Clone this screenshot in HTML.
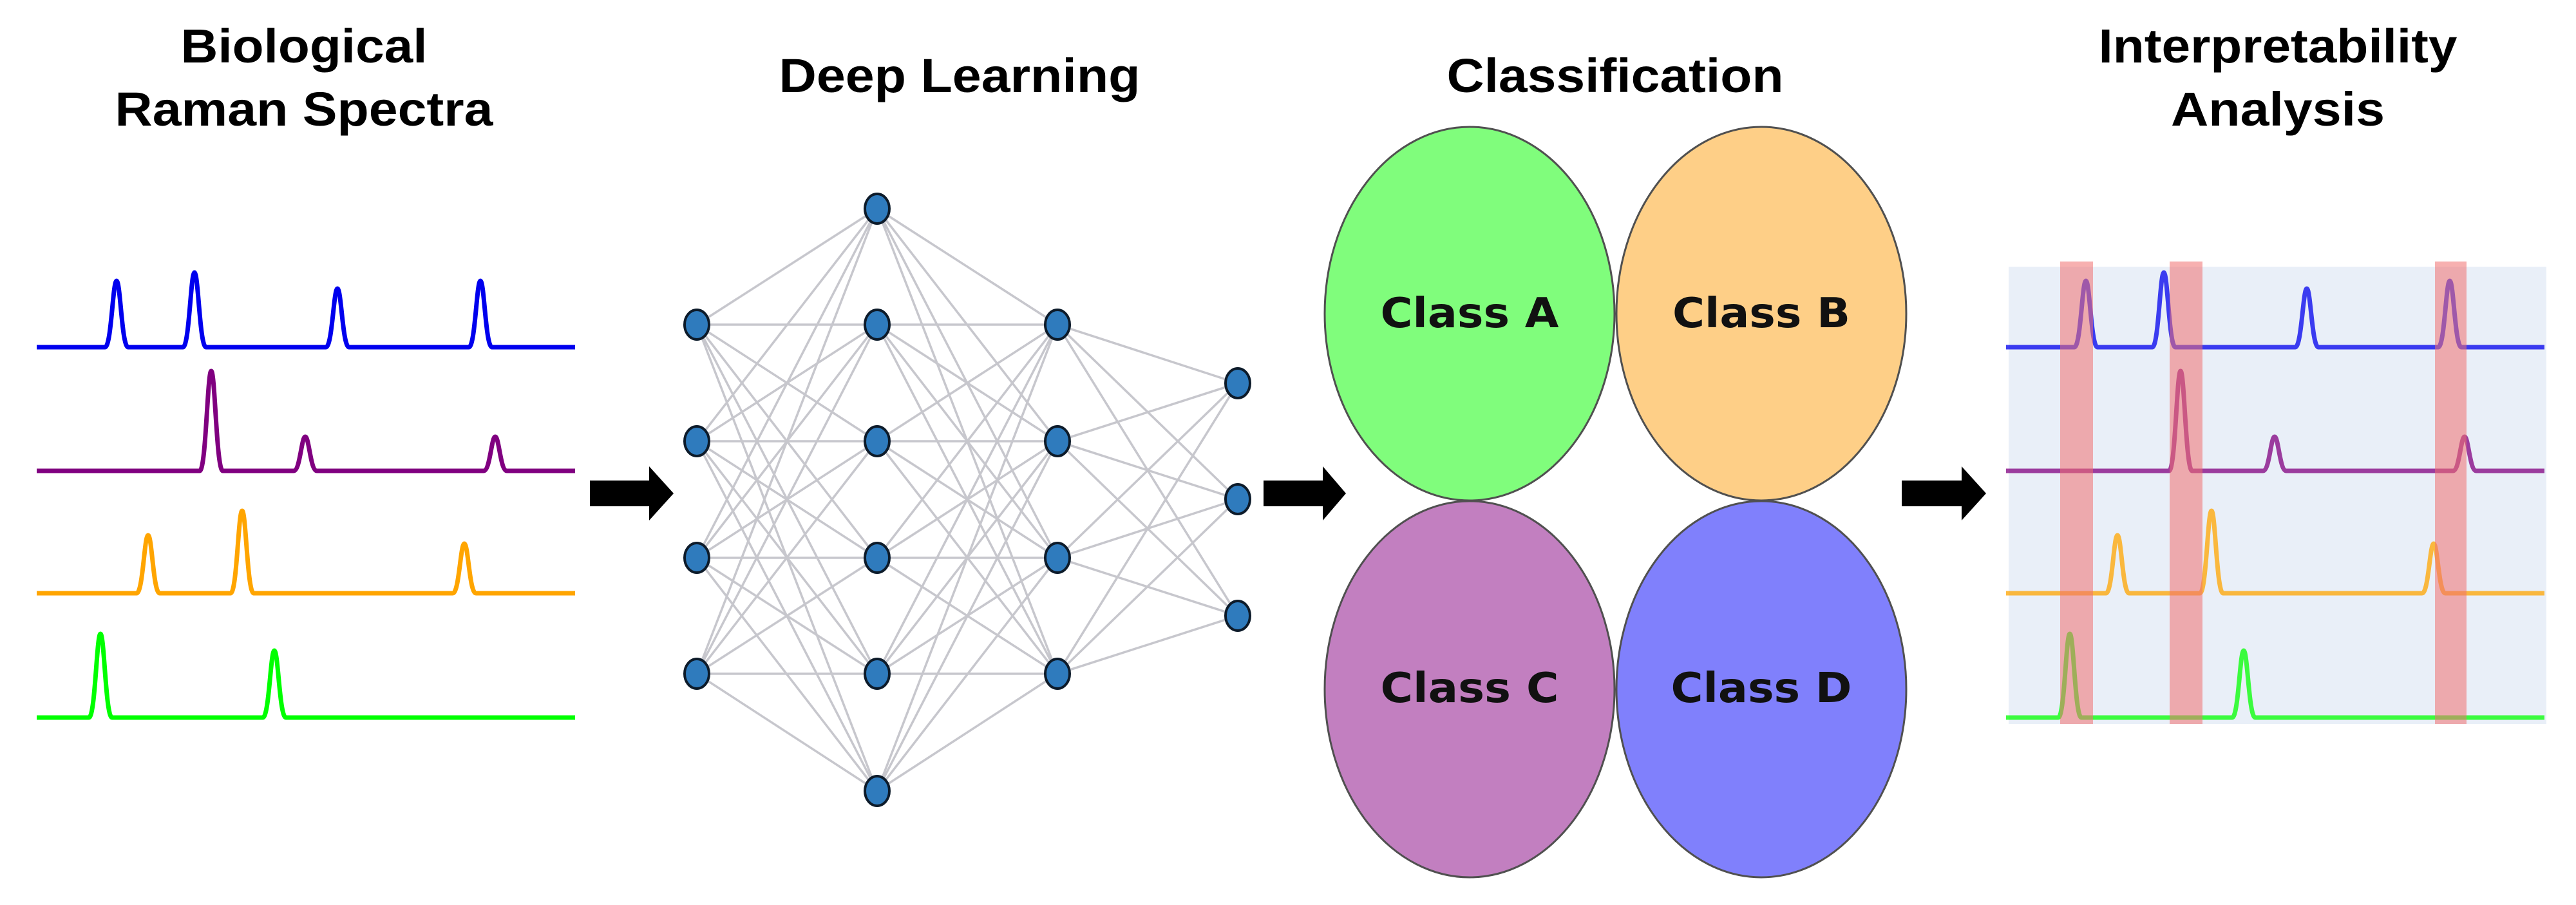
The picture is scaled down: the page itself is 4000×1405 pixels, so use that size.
<!DOCTYPE html>
<html><head><meta charset="utf-8"><style>
html,body{margin:0;padding:0;background:#fff;}
svg{display:block;}
.t{font-family:"Liberation Sans",Arial,sans-serif;font-weight:bold;font-size:74px;fill:#000;}
.c{font-family:"DejaVu Sans","Liberation Sans",sans-serif;font-weight:bold;font-size:64px;fill:#111;}
</style></head><body>
<svg width="4000" height="1405" viewBox="0 0 4000 1405" xmlns="http://www.w3.org/2000/svg">
<rect width="4000" height="1405" fill="#fff"/>
<text class="t" x="472" y="97" text-anchor="middle" textLength="383" lengthAdjust="spacingAndGlyphs">Biological</text>
<text class="t" x="472" y="195" text-anchor="middle" textLength="587" lengthAdjust="spacingAndGlyphs">Raman Spectra</text>
<text class="t" x="1490" y="143" text-anchor="middle" textLength="561" lengthAdjust="spacingAndGlyphs">Deep Learning</text>
<text class="t" x="2508" y="143" text-anchor="middle" textLength="523" lengthAdjust="spacingAndGlyphs">Classification</text>
<text class="t" x="3537" y="97" text-anchor="middle" textLength="557" lengthAdjust="spacingAndGlyphs">Interpretability</text>
<text class="t" x="3537" y="195" text-anchor="middle" textLength="332" lengthAdjust="spacingAndGlyphs">Analysis</text>

<g fill="none" stroke-width="7" stroke-linejoin="round">
<path stroke="#0000ee" d="M57 539 L163 539 C173 539 175 436 181 436 C187 436 189 539 199 539 L284 539 C294 539 296 423 302 423 C308 423 310 539 320 539 L506 539 C516 539 518 448 524 448 C530 448 532 539 542 539 L728 539 C738 539 740 436 746 436 C752 436 754 539 764 539 L893 539"/>
<path stroke="#800080" d="M57 731 L310 731 C320 731 322 576 328 576 C334 576 336 731 346 731 L456 731 C466 731 468 678 474 678 C480 678 482 731 492 731 L751 731 C761 731 763 678 769 678 C775 678 777 731 787 731 L893 731"/>
<path stroke="#ffa500" d="M57 921 L212 921 C222 921 224 831 230 831 C236 831 238 921 248 921 L358 921 C368 921 370 793 376 793 C382 793 384 921 394 921 L703 921 C713 921 715 844 721 844 C727 844 729 921 739 921 L893 921"/>
<path stroke="#00ff00" d="M57 1114 L138 1114 C148 1114 150 984 156 984 C162 984 164 1114 174 1114 L408 1114 C418 1114 420 1010 426 1010 C432 1010 434 1114 444 1114 L893 1114"/>
</g>

<g fill="#000">
<polygon points="916,746 1008,746 1008,724 1046,766 1008,808 1008,786 916,786"/>
<polygon points="1962,746 2054,746 2054,724 2090,766 2054,808 2054,786 1962,786"/>
<polygon points="2953,746 3046,746 3046,724 3084,766 3046,808 3046,786 2953,786"/>
</g>

<g stroke="#bdbdc4" stroke-width="3.5" stroke-opacity="0.85">
<path d="M1082 504L1362 324M1082 504L1362 504M1082 504L1362 685M1082 504L1362 866M1082 504L1362 1046M1082 504L1362 1228
M1082 685L1362 324M1082 685L1362 504M1082 685L1362 685M1082 685L1362 866M1082 685L1362 1046M1082 685L1362 1228
M1082 866L1362 324M1082 866L1362 504M1082 866L1362 685M1082 866L1362 866M1082 866L1362 1046M1082 866L1362 1228
M1082 1046L1362 324M1082 1046L1362 504M1082 1046L1362 685M1082 1046L1362 866M1082 1046L1362 1046M1082 1046L1362 1228"/>
<path d="M1362 324L1642 504M1362 324L1642 685M1362 324L1642 866M1362 324L1642 1046
M1362 504L1642 504M1362 504L1642 685M1362 504L1642 866M1362 504L1642 1046
M1362 685L1642 504M1362 685L1642 685M1362 685L1642 866M1362 685L1642 1046
M1362 866L1642 504M1362 866L1642 685M1362 866L1642 866M1362 866L1642 1046
M1362 1046L1642 504M1362 1046L1642 685M1362 1046L1642 866M1362 1046L1642 1046
M1362 1228L1642 504M1362 1228L1642 685M1362 1228L1642 866M1362 1228L1642 1046"/>
<path d="M1642 504L1922 595M1642 504L1922 775M1642 504L1922 956
M1642 685L1922 595M1642 685L1922 775M1642 685L1922 956
M1642 866L1922 595M1642 866L1922 775M1642 866L1922 956
M1642 1046L1922 595M1642 1046L1922 775M1642 1046L1922 956"/>
</g>
<g fill="#2f7bbd" stroke="#0d1b2a" stroke-width="4">
<ellipse cx="1082" cy="504" rx="19" ry="23"/><ellipse cx="1082" cy="685" rx="19" ry="23"/><ellipse cx="1082" cy="866" rx="19" ry="23"/><ellipse cx="1082" cy="1046" rx="19" ry="23"/>
<ellipse cx="1362" cy="324" rx="19" ry="23"/><ellipse cx="1362" cy="504" rx="19" ry="23"/><ellipse cx="1362" cy="685" rx="19" ry="23"/><ellipse cx="1362" cy="866" rx="19" ry="23"/><ellipse cx="1362" cy="1046" rx="19" ry="23"/><ellipse cx="1362" cy="1228" rx="19" ry="23"/>
<ellipse cx="1642" cy="504" rx="19" ry="23"/><ellipse cx="1642" cy="685" rx="19" ry="23"/><ellipse cx="1642" cy="866" rx="19" ry="23"/><ellipse cx="1642" cy="1046" rx="19" ry="23"/>
<ellipse cx="1922" cy="595" rx="19" ry="23"/><ellipse cx="1922" cy="775" rx="19" ry="23"/><ellipse cx="1922" cy="956" rx="19" ry="23"/>
</g>

<g stroke="#505050" stroke-width="3">
<ellipse cx="2282" cy="487" rx="225" ry="290" fill="#80fd7c"/>
<ellipse cx="2735" cy="487" rx="225" ry="290" fill="#fecf87"/>
<ellipse cx="2282" cy="1070" rx="225" ry="292" fill="#c27fc0"/>
<ellipse cx="2735" cy="1070" rx="225" ry="292" fill="#8080fc"/>
</g>
<text class="c" x="2282" y="508" text-anchor="middle" textLength="277" lengthAdjust="spacingAndGlyphs">Class A</text>
<text class="c" x="2735" y="508" text-anchor="middle" textLength="276" lengthAdjust="spacingAndGlyphs">Class B</text>
<text class="c" x="2282" y="1090" text-anchor="middle" textLength="277" lengthAdjust="spacingAndGlyphs">Class C</text>
<text class="c" x="2735" y="1090" text-anchor="middle" textLength="281" lengthAdjust="spacingAndGlyphs">Class D</text>

<rect x="3119" y="414" width="835" height="710" fill="#e9eff8"/>
<g transform="translate(3058,0)" fill="none" stroke-width="7" stroke-linejoin="round" opacity="0.75">
<path stroke="#0000ee" d="M57 539 L163 539 C173 539 175 436 181 436 C187 436 189 539 199 539 L284 539 C294 539 296 423 302 423 C308 423 310 539 320 539 L506 539 C516 539 518 448 524 448 C530 448 532 539 542 539 L728 539 C738 539 740 436 746 436 C752 436 754 539 764 539 L893 539"/>
<path stroke="#800080" d="M57 731 L310 731 C320 731 322 576 328 576 C334 576 336 731 346 731 L456 731 C466 731 468 678 474 678 C480 678 482 731 492 731 L751 731 C761 731 763 678 769 678 C775 678 777 731 787 731 L893 731"/>
<path stroke="#ffa500" d="M57 921 L212 921 C222 921 224 831 230 831 C236 831 238 921 248 921 L358 921 C368 921 370 793 376 793 C382 793 384 921 394 921 L703 921 C713 921 715 844 721 844 C727 844 729 921 739 921 L893 921"/>
<path stroke="#00ff00" d="M57 1114 L138 1114 C148 1114 150 984 156 984 C162 984 164 1114 174 1114 L408 1114 C418 1114 420 1010 426 1010 C432 1010 434 1114 444 1114 L893 1114"/>
</g>
<g fill="#f07070" fill-opacity="0.55">
<rect x="3199" y="406" width="51" height="718"/>
<rect x="3369" y="406" width="51" height="718"/>
<rect x="3781" y="406" width="49" height="718"/>
</g>
</svg>
</body></html>
